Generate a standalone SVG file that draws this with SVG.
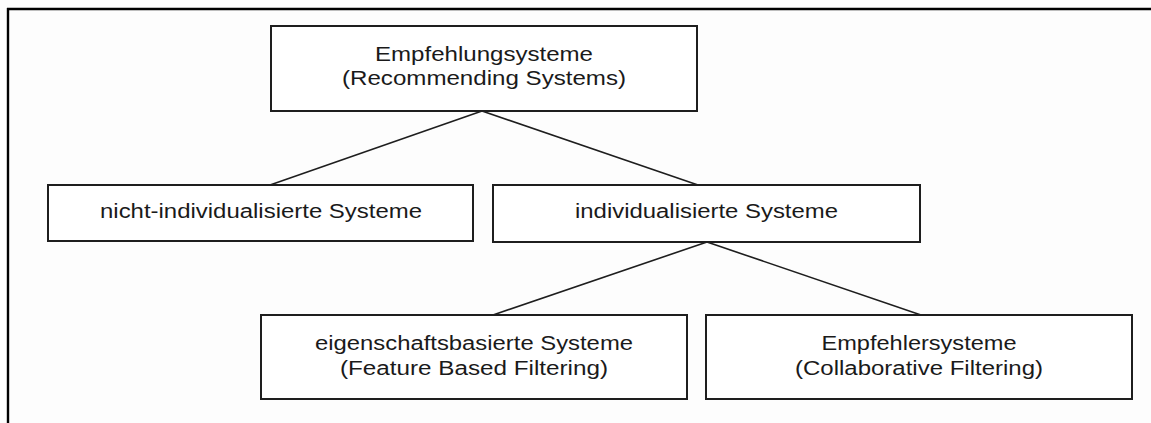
<svg xmlns="http://www.w3.org/2000/svg" width="1151" height="423" viewBox="0 0 1151 423">
<style>
.box{fill:#fff;stroke:#1e1e1e;stroke-width:2}
.t{font-family:"Liberation Sans",Arial,sans-serif;font-size:20px;fill:#1a1a1a;text-anchor:middle}
.c{stroke:#1e1e1e;stroke-width:1.6;fill:none}
.frame{stroke:#000;stroke-width:2.4;fill:none}
</style>
<rect width="1151" height="423" fill="#fdfdfd"/>
<g id="frame">
<line class="frame" x1="7" y1="9" x2="1151" y2="9"/>
<line class="frame" x1="8" y1="8" x2="8" y2="423"/>
</g>
<g id="connectors">
<line class="c" x1="482" y1="111" x2="270" y2="185"/>
<line class="c" x1="482" y1="111" x2="698" y2="185"/>
<line class="c" x1="707" y1="242" x2="493" y2="315"/>
<line class="c" x1="707" y1="242" x2="921" y2="315"/>
</g>
<g id="root">
<rect class="box" x="271" y="26" width="426" height="85"/>
<text class="t" x="484" y="61" textLength="218" lengthAdjust="spacingAndGlyphs">Empfehlungsysteme</text>
<text class="t" x="484" y="85" textLength="284" lengthAdjust="spacingAndGlyphs">(Recommending Systems)</text>
</g>
<g id="nicht-individualisiert">
<rect class="box" x="48" y="185" width="425" height="56"/>
<text class="t" x="261" y="218" textLength="322" lengthAdjust="spacingAndGlyphs">nicht-individualisierte Systeme</text>
</g>
<g id="individualisiert">
<rect class="box" x="493" y="185" width="427" height="57"/>
<text class="t" x="706.5" y="218" textLength="263" lengthAdjust="spacingAndGlyphs">individualisierte Systeme</text>
</g>
<g id="eigenschaftsbasiert">
<rect class="box" x="261" y="315" width="426" height="84"/>
<text class="t" x="474" y="350" textLength="318" lengthAdjust="spacingAndGlyphs">eigenschaftsbasierte Systeme</text>
<text class="t" x="474" y="375" textLength="268" lengthAdjust="spacingAndGlyphs">(Feature Based Filtering)</text>
</g>
<g id="empfehlersysteme">
<rect class="box" x="706" y="315" width="426" height="84"/>
<text class="t" x="919" y="350" textLength="195" lengthAdjust="spacingAndGlyphs">Empfehlersysteme</text>
<text class="t" x="919" y="375" textLength="248" lengthAdjust="spacingAndGlyphs">(Collaborative Filtering)</text>
</g>
</svg>
